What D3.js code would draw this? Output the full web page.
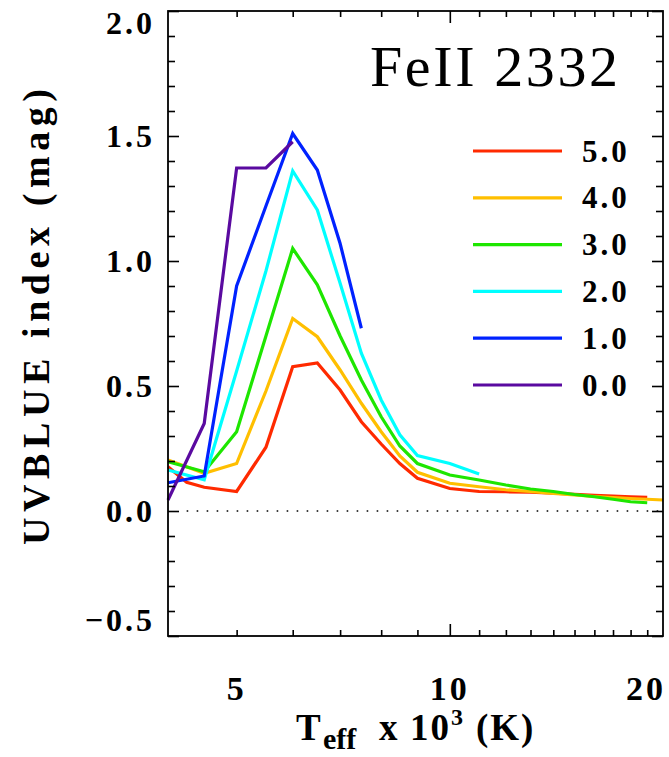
<!DOCTYPE html>
<html>
<head>
<meta charset="utf-8">
<script src="https://cdn.jsdelivr.net/npm/d3@7"></script>
<style>
  html, body { margin: 0; padding: 0; background: #fff; }
  svg { display: block; }
  text { font-family: "Liberation Serif", "DejaVu Serif", serif; fill: #000; }
  .lab { font-weight: bold; }
</style>
</head>
<body>
<svg id="chart" width="669" height="757"></svg>
<script>
// ---------------- data ----------------
const teffA = [4.0, 4.25, 4.5, 5.0, 5.5, 6.0, 6.5, 7.0, 7.5, 8.0, 8.5, 9.0, 10, 11, 12, 13, 14, 15, 16, 17, 18, 19];
const logg50 = [0.177, 0.115, 0.095, 0.078, 0.255, 0.577, 0.592, 0.484, 0.357, 0.268, 0.19, 0.131, 0.09, 0.078, 0.077, 0.075, 0.071, 0.067, 0.063, 0.060, 0.057, 0.055];

const teffB = [4.0, 4.5, 5.0, 5.5, 6.0, 6.5, 7.0, 7.5, 8.0, 8.5, 9.0, 10, 11, 12, 13, 14, 15, 16, 17, 18, 19, 20];
const logg40 = [0.204, 0.151, 0.19, 0.48, 0.77, 0.697, 0.564, 0.431, 0.317, 0.22, 0.155, 0.111, 0.097, 0.085, 0.078, 0.070, 0.064, 0.058, 0.054, 0.050, 0.047, 0.044];

const teffC = [4.0, 4.5, 5.0, 5.5, 6.0, 6.5, 7.0, 7.5, 8.0, 8.5, 9.0, 10, 11, 12, 13, 14, 15, 16, 17, 18, 19];
const logg30 = [0.197, 0.157, 0.317, 0.70, 1.05, 0.905, 0.70, 0.524, 0.377, 0.26, 0.19, 0.144, 0.124, 0.104, 0.088, 0.078, 0.066, 0.057, 0.047, 0.037, 0.033];

const teffD = [4.0, 4.5, 5.0, 5.5, 6.0, 6.5, 7.0, 7.5, 8.0, 8.5, 9.0, 10, 11];
const logg20 = [0.164, 0.125, 0.56, 0.96, 1.36, 1.204, 0.911, 0.631, 0.444, 0.305, 0.222, 0.19, 0.148];

const teffE = [4.0, 4.5, 5.0, 5.5, 6.0, 6.5, 7.0, 7.5];
const logg10 = [0.113, 0.14, 0.90, 1.22, 1.51, 1.364, 1.07, 0.731];

const teffF = [4.0, 4.5, 5.0, 5.5, 6.0];
const logg00 = [0.044, 0.35, 1.372, 1.372, 1.477];

const seriesNames = ["5.0", "4.0", "3.0", "2.0", "1.0", "0.0"];
const seriesColors = ["#ff2a00", "#ffbf00", "#1ee600", "#00ffff", "#0022ff", "#5a0aa0"];

const yTickValues = [-0.5, 0.0, 0.5, 1.0, 1.5, 2.0];
const yTickLabels = ["\u22120.5", "0.0", "0.5", "1.0", "1.5", "2.0"];
const xTickValues = [5, 10, 20];
const xTickLabels = ["5", "10", "20"];
const titleText = "FeII 2332";

// ---------------- layout ----------------
const svg = d3.select("#chart");
const L = 168, R = 663, T = 11, B = 636;

const x = d3.scaleLog().domain([4, 20]).range([L, R]);
const y = d3.scaleLinear().domain([-0.5, 2.0]).range([B, T]);

const series = [
  { name: seriesNames[0], color: seriesColors[0], xs: teffA, ys: logg50 },
  { name: seriesNames[1], color: seriesColors[1], xs: teffB, ys: logg40 },
  { name: seriesNames[2], color: seriesColors[2], xs: teffC, ys: logg30 },
  { name: seriesNames[3], color: seriesColors[3], xs: teffD, ys: logg20 },
  { name: seriesNames[4], color: seriesColors[4], xs: teffE, ys: logg10 },
  { name: seriesNames[5], color: seriesColors[5], xs: teffF, ys: logg00 }
];

// zero dotted line
svg.append("line")
  .attr("x1", x(4.25)).attr("x2", R - 4)
  .attr("y1", y(0)).attr("y2", y(0))
  .attr("stroke", "#000").attr("stroke-width", 1.6)
  .attr("stroke-dasharray", "1.6,8.4");

// lines
const line = d3.line().x(d => x(d[0])).y(d => y(d[1]));
series.forEach(s => {
  const pts = s.xs.map((v, i) => [v, s.ys[i]]);
  svg.append("path")
    .attr("d", line(pts))
    .attr("fill", "none")
    .attr("stroke", s.color)
    .attr("stroke-width", 3.2)
    .attr("stroke-linejoin", "miter");
});

// ticks
const yMinor = d3.range(-5, 21).map(i => i / 10).filter(v => Math.abs(v * 2 - Math.round(v * 2)) > 1e-6);
const yMajor = yTickValues;
const xMinor = [5, 6, 7, 8, 9, 11, 12, 13, 14, 15, 16, 17, 18, 19];
const xMajor = [10];

function addAxis(axis, tx, ty) {
  const g = svg.append("g").attr("transform", `translate(${tx},${ty})`).call(axis);
  g.select(".domain").remove();
  g.selectAll("line").attr("stroke", "#000").attr("stroke-width", 1.6);
  g.selectAll("text").remove();
}
addAxis(d3.axisRight(y).tickValues(yMinor).tickSize(7).tickFormat(""), L, 0);
addAxis(d3.axisRight(y).tickValues(yMajor).tickSize(11).tickFormat(""), L, 0);
addAxis(d3.axisLeft(y).tickValues(yMinor).tickSize(7).tickFormat(""), R, 0);
addAxis(d3.axisLeft(y).tickValues(yMajor).tickSize(11).tickFormat(""), R, 0);
addAxis(d3.axisTop(x).tickValues(xMinor).tickSize(6).tickFormat(""), 0, B);
addAxis(d3.axisTop(x).tickValues(xMajor).tickSize(12).tickFormat(""), 0, B);
addAxis(d3.axisBottom(x).tickValues(xMinor).tickSize(6).tickFormat(""), 0, T);
addAxis(d3.axisBottom(x).tickValues(xMajor).tickSize(12).tickFormat(""), 0, T);

// frame
svg.append("rect")
  .attr("x", L).attr("y", T).attr("width", R - L).attr("height", B - T)
  .attr("fill", "none").attr("stroke", "#000").attr("stroke-width", 1.8);

// y tick labels
yTickValues.forEach((v, i) => {
  const yy = Math.min(Math.max(y(v), 23), 620);
  svg.append("text").attr("class", "lab")
    .attr("x", 155).attr("y", yy)
    .attr("text-anchor", "end").attr("dominant-baseline", "central")
    .style("font-size", "32px").style("letter-spacing", "3px")
    .text(yTickLabels[i]);
});

// x tick labels
xTickValues.forEach((v, i) => {
  const xx = Math.min(x(v), 646);
  svg.append("text").attr("class", "lab")
    .attr("x", xx).attr("y", 688)
    .attr("text-anchor", "middle").attr("dominant-baseline", "central")
    .style("font-size", "34px").style("letter-spacing", "3px")
    .text(xTickLabels[i]);
});

// axis titles
svg.append("text").attr("class", "lab")
  .attr("transform", "translate(49,317) rotate(-90)")
  .attr("text-anchor", "middle")
  .style("font-size", "38px")
  .attr("textLength", 456).attr("lengthAdjust", "spacing")
  .text("UVBLUE index (mag)");

const xt = svg.append("text").attr("class", "lab")
  .attr("y", 740)
  .style("font-size", "37px");
xt.append("tspan").attr("x", 296).text("T");
xt.append("tspan").attr("x", 323).attr("dy", 9).style("font-size", "30px").text("eff");
xt.append("tspan").attr("x", 379).attr("dy", -9).text("x");
xt.append("tspan").attr("x", 410).style("letter-spacing", "2px").text("10");
xt.append("tspan").attr("x", 451).attr("dy", -15).style("font-size", "24px").text("3");
xt.append("tspan").attr("x", 476).attr("dy", 15).style("letter-spacing", "2px").text("(K)");

// title
svg.append("text")
  .attr("x", 370).attr("y", 86)
  .style("font-size", "58px")
  .attr("textLength", 248).attr("lengthAdjust", "spacing")
  .text(titleText);

// legend
series.forEach((s, i) => {
  const ly = 151 + i * 46.8;
  svg.append("line")
    .attr("x1", 473).attr("x2", 562).attr("y1", ly).attr("y2", ly)
    .attr("stroke", s.color).attr("stroke-width", 3.2);
  svg.append("text").attr("class", "lab")
    .attr("x", 582).attr("y", ly)
    .attr("dominant-baseline", "central")
    .style("font-size", "31px").style("letter-spacing", "3px")
    .text(s.name);
});
</script>
</body>
</html>
